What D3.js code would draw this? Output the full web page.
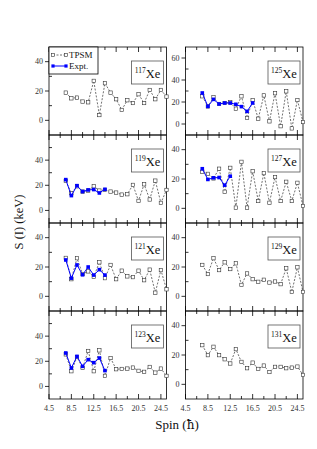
<!DOCTYPE html>
<html><head><meta charset="utf-8">
<script src="https://cdn.jsdelivr.net/npm/d3@7"></script>
<style>body{margin:0;background:#fff}svg{display:block}text{font-family:"Liberation Serif","Times New Roman",serif}</style>
</head><body><svg id="c" width="317" height="449"></svg>
<script>
const spins = [7.5,8.5,9.5,10.5,11.5,12.5,13.5,14.5,15.5,16.5,17.5,18.5,19.5,20.5,21.5,22.5,23.5,24.5,25.5];
const nuclei = ["117","125","119","127","121","129","123","131"];
const tpsm117 = [18.9,15,15.5,12.8,12.3,26.9,3.6,25.3,18.9,14.4,7.1,13.7,11.8,17.8,11.8,20.7,14.4,20.7,16.2];
const tpsm125 = [25.2,16,24.2,18.2,19.1,19.7,13.9,25.2,5.5,21.8,4.8,26,2.4,28,-2,29.7,-4,21.8,1.8];
const expt125 = [28.2,16,22.4,18.2,19.1,19.1,17.9,15.8,11.5,19.1];
const tpsm119 = [23.5,13.7,19.2,15,15.8,19.2,15.8,16.3,15,14.2,12.6,12.9,20.3,7.6,20.8,8.7,23.7,6,16.3];
const expt119 = [24.5,11.8,19.7,15,16.3,16.6,13.9,16.8];
const tpsm127 = [24.9,23.5,20.4,27,11.3,27.6,0.5,31.7,0.5,25.3,5,24,3.8,21.3,5,18.1,5,17.4,1.6];
const expt127 = [27,19.7,20.8,21,15.8,21.9];
const tpsm121 = [26.2,11.7,26,15.2,17,13.3,23.2,12.4,21.4,11.7,17.5,13.6,13.1,17.5,11,18.2,2.5,17.9,4.8];
const expt121 = [24.8,12.4,21.4,14.7,20,14.5,18.2,14.5];
const tpsm129 = [21.4,15.2,26,17.9,23.2,18.6,22.5,7.8,15.6,11.7,9.9,11.3,9.4,10.1,8.3,19.1,3,19.8,3];
const tpsm123 = [25.5,12.1,23.4,14.7,28.2,12.1,28.7,8.4,22.6,13.7,13.9,14.2,15,12.4,11.6,15.5,11,14.2,8.4];
const expt123 = [26.6,14.7,23.9,16,21.3,18.9,22.6,12.6];
const tpsm131 = [26.7,19.9,25.6,19.9,17.1,14.2,24,15.3,11,14.8,10.5,12.8,8.4,11.9,11.9,11,11.4,12.1,6.4];
const yMax = [50,70,60,50,50,50,60,50];
const xTicks = [4.5,8.5,12.5,16.5,20.5,24.5];
const xMinor = [6.5,10.5,14.5,18.5,22.5];
const yTicks = [0,20,40,60];
const yMinor = [-10,10,30,50];
const legendLabels = ["TPSM","Expt."];

const tpsmAll = [tpsm117,tpsm125,tpsm119,tpsm127,tpsm121,tpsm129,tpsm123,tpsm131];
const exptAll = [[],expt125,expt119,expt127,expt121,[],expt123,[]];

const svg = d3.select("#c");
const colX = [49,185.5], W = 117.5, rowY = [47,135,223,311], H = 88;
const x0 = d3.scaleLinear().domain([4.5,25.5]);

nuclei.forEach((nuc,i)=>{
  const col = i%2, row = Math.floor(i/2);
  const left = colX[col], top = rowY[row];
  const x = x0.copy().range([left,left+W]);
  const y = d3.scaleLinear().domain([-10,yMax[i]]).range([top+H,top]);
  const g = svg.append("g");
  const tk = g.append("g").attr("stroke","#000").attr("stroke-width",0.8);
  xTicks.forEach(t=>{
    tk.append("line").attr("x1",x(t)).attr("x2",x(t)).attr("y1",top+H).attr("y2",top+H-5);
    tk.append("line").attr("x1",x(t)).attr("x2",x(t)).attr("y1",top).attr("y2",top+5);
  });
  xMinor.forEach(t=>{
    tk.append("line").attr("x1",x(t)).attr("x2",x(t)).attr("y1",top+H).attr("y2",top+H-3);
    tk.append("line").attr("x1",x(t)).attr("x2",x(t)).attr("y1",top).attr("y2",top+3);
  });
  yTicks.filter(t=>t<yMax[i]).forEach(t=>{
    tk.append("line").attr("x1",left-4).attr("x2",left).attr("y1",y(t)).attr("y2",y(t));
    g.append("text").attr("x",left-6).attr("y",y(t)).attr("dy","0.33em").attr("text-anchor","end")
      .attr("font-size",8).attr("fill","#333").text(t);
  });
  yMinor.filter(t=>t>-10&&t<yMax[i]).forEach(t=>{
    tk.append("line").attr("x1",left).attr("x2",left+3).attr("y1",y(t)).attr("y2",y(t));
  });
  if(row===3){
    xTicks.forEach(t=>{
      g.append("text").attr("x",x(t)).attr("y",top+H+12).attr("text-anchor","middle")
        .attr("font-size",8).attr("fill","#333").text(t);
    });
  }
  g.append("rect").attr("x",left).attr("y",top).attr("width",W).attr("height",H)
    .attr("fill","none").attr("stroke","#000").attr("stroke-width",0.8);
  const tp = tpsmAll[i].map((v,k)=>[spins[k],v]);
  g.append("path").datum(tp).attr("fill","none").attr("stroke","#333").attr("stroke-width",0.7)
    .attr("stroke-dasharray","2,1.5").attr("d",d3.line().x(d=>x(d[0])).y(d=>y(d[1])));
  g.selectAll(".tp").data(tp).join("rect").attr("x",d=>x(d[0])-1.7).attr("y",d=>y(d[1])-1.7)
    .attr("width",3.4).attr("height",3.4).attr("fill","#fff").attr("stroke","#333").attr("stroke-width",0.6);
  const ex = exptAll[i].map((v,k)=>[spins[k],v]);
  if(ex.length){
    g.append("path").datum(ex).attr("fill","none").attr("stroke","#0000ff").attr("stroke-width",1)
      .attr("d",d3.line().x(d=>x(d[0])).y(d=>y(d[1])));
    g.selectAll(".ex").data(ex).join("rect").attr("x",d=>x(d[0])-1.8).attr("y",d=>y(d[1])-1.8)
      .attr("width",3.6).attr("height",3.6).attr("fill","#0000ff");
  }
  const bx = left+W-35, by = top+14;
  g.append("rect").attr("x",bx).attr("y",by).attr("width",32).attr("height",23)
    .attr("fill","#fff").attr("stroke","#555").attr("stroke-width",0.8);
  const t = g.append("text").attr("x",bx+16).attr("y",by+16.5).attr("text-anchor","middle").attr("fill","#111");
  t.append("tspan").attr("font-size",7.5).attr("dy",-4.5).text(nuc);
  t.append("tspan").attr("font-size",12.5).attr("dy",4.5).text("Xe");
  if(i===0){
    const lg = g.append("g");
    lg.append("rect").attr("x",left).attr("y",top).attr("width",49).attr("height",27)
      .attr("fill","#fff").attr("stroke","#000").attr("stroke-width",0.8);
    lg.append("line").attr("x1",left+4).attr("x2",left+17).attr("y1",top+8).attr("y2",top+8)
      .attr("stroke","#333").attr("stroke-width",0.7).attr("stroke-dasharray","2,1.5");
    [left+4,left+17].forEach(px=>lg.append("rect").attr("x",px-1.5).attr("y",top+6.5).attr("width",3).attr("height",3)
      .attr("fill","#fff").attr("stroke","#333").attr("stroke-width",0.6));
    lg.append("line").attr("x1",left+4).attr("x2",left+17).attr("y1",top+19).attr("y2",top+19)
      .attr("stroke","#0000ff").attr("stroke-width",1);
    [left+4,left+17].forEach(px=>lg.append("rect").attr("x",px-1.6).attr("y",top+17.4).attr("width",3.2).attr("height",3.2)
      .attr("fill","#0000ff"));
    legendLabels.forEach((s,k)=>lg.append("text").attr("x",left+20).attr("y",top+11+k*11)
      .attr("font-size",9).attr("fill","#111").text(s));
  }
});

const sx = svg.append("text").attr("x",177).attr("y",429).attr("text-anchor","middle").attr("font-size",13).attr("fill","#111");
sx.append("tspan").text("Spin (");
sx.append("tspan").style("font-family","'DejaVu Serif',serif").attr("font-size",12).text("ħ");
sx.append("tspan").text(")");
svg.append("text").attr("transform","translate(23,222) rotate(-90)").attr("text-anchor","middle")
  .attr("font-size",12.5).attr("fill","#111").text("S (I) (keV)");
</script></body></html>
